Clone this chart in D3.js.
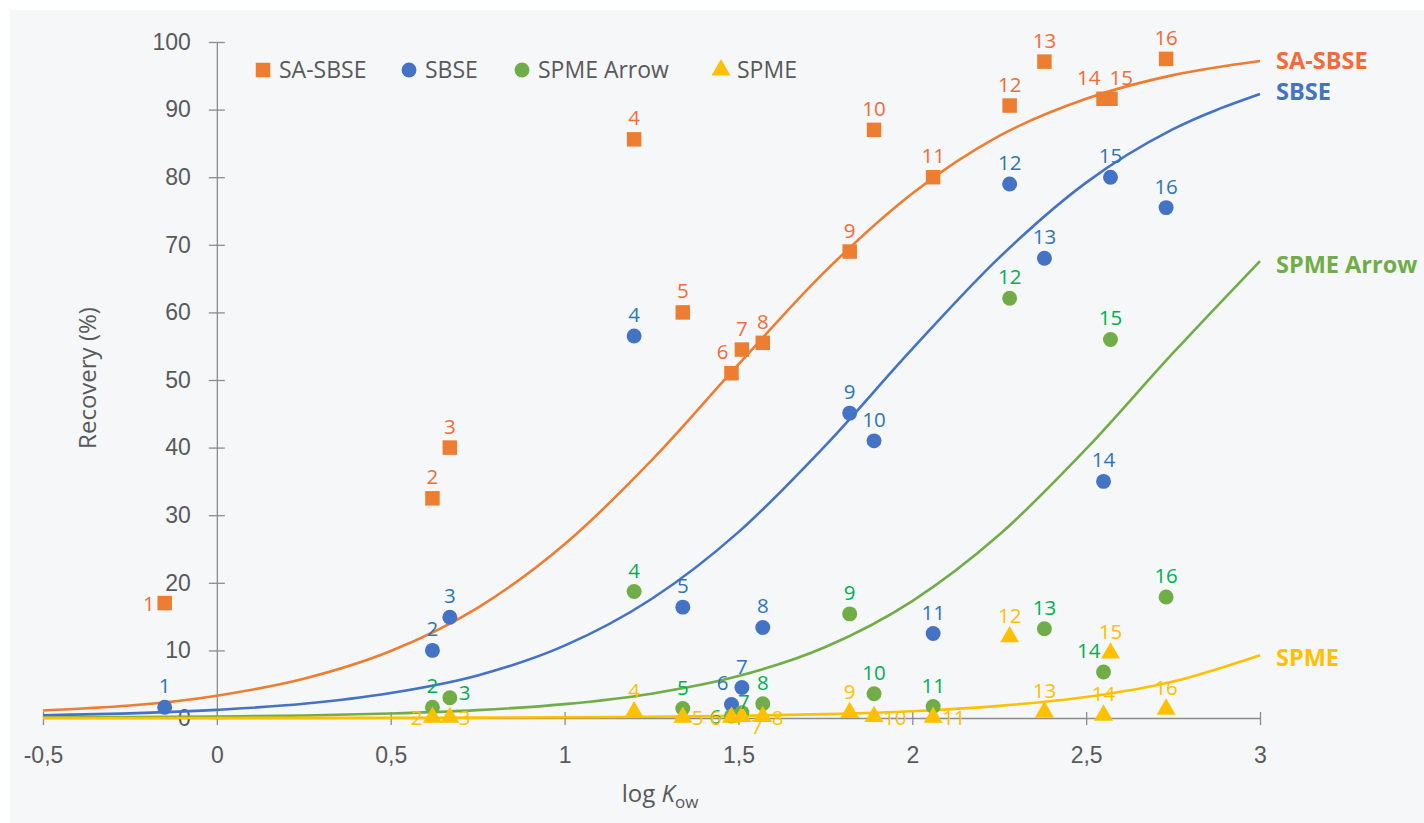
<!DOCTYPE html>
<html>
<head>
<meta charset="utf-8">
<script src="https://cdn.jsdelivr.net/npm/d3@7"></script>
<style>
  body { margin: 0; background: #ffffff; }
  svg { display: block; font-family: "Open Sans", "Noto Sans", sans-serif; }
</style>
</head>
<body>
<div id="chart"></div>
<script>
// chart data
var compounds = [1, 2, 3, 4, 5, 6, 7, 8, 9, 10, 11, 12, 13, 14, 15, 16];
var logKow = [-0.15, 0.62, 0.67, 1.20, 1.34, 1.48, 1.51, 1.57, 1.82, 1.89, 2.06, 2.28, 2.38, 2.55, 2.57, 2.73];

var saSbse = [17, 32.5, 40, 85.6, 60, 51, 54.5, 55.5, 69, 87, 80, 90.6, 97.1, 91.6, 91.6, 97.5];
var sbse = [1.6, 10, 14.9, 56.5, 16.4, 2, 4.5, 13.4, 45.1, 41, 12.5, 79, 68, 35, 80, 75.5];
var spmeArrow = [null, 1.6, 3, 18.7, 1.4, 0.3, 0.8, 2.1, 15.4, 3.6, 1.7, 62.1, 13.2, 6.8, 56, 17.9];
var spme = [null, 0.1, 0.1, 0.9, 0.1, 0.1, 0.2, 0.2, 0.8, 0.2, 0.1, 12, 0.9, 0.4, 9.6, 1.3];

// fitted curves
var curveX = [-0.5, 0, 0.25, 0.5, 0.75, 1, 1.25, 1.5, 1.75, 2, 2.25, 2.5, 2.75, 3];
var saSbseFit = [1.1, 3.3, 5.8, 9.9, 16.3, 25.7, 38.1, 52.3, 66.1, 77.6, 86.1, 91.6, 95.1, 97.2];
var sbseFit = [0.4, 1.2, 2.1, 3.7, 6.3, 10.7, 17.6, 27.5, 40.3, 54.6, 68.1, 79.2, 87.1, 92.3];
var spmeArrowFit = [0.07, 0.21, 0.37, 0.66, 1.16, 2.05, 3.6, 6.2, 10.5, 17.3, 27.1, 39.8, 54, 67.6];
var spmeFit = [0, 0.01, 0.02, 0.03, 0.06, 0.1, 0.18, 0.32, 0.57, 1.0, 1.8, 3.1, 5.4, 9.3];

var xTicks = [-0.5, 0, 0.5, 1, 1.5, 2, 2.5, 3];
var xTickLabels = ["-0,5", "0", "0,5", "1", "1,5", "2", "2,5", "3"];
var yTicks = [0, 10, 20, 30, 40, 50, 60, 70, 80, 90, 100];

// where each point's number label sits (t = top, l = left, r = right ...)
var saSbseLab = ["l", "t", "t", "t", "t", "tl", "t", "t", "t", "t", "t", "t", "t", "tl", "tr", "t"];
var sbseLab = ["t", "t", "t", "t", "t", "tl", "t", "t", "t", "t", "t", "t", "t", "t", "t", "t"];
var spmeArrowLab = ["t", "t", "ru", "t", "t", "l", "tc", "t", "t", "t", "t", "t", "t", "tl", "t", "t"];
var spmeLab = ["t", "l", "r", "t", "r", "l", "rb", "r", "t", "r", "r", "t", "t", "t", "t", "t"];

var W = 1424, H = 823;
var svg = d3.select("#chart").append("svg")
    .attr("width", W)
    .attr("height", H);

svg.append("rect")
    .attr("x", 10).attr("y", 10)
    .attr("width", W - 10).attr("height", H - 10)
    .attr("fill", "#f5f7f9");

var x = d3.scaleLinear().domain([-0.5, 3]).range([43, 1260]);
var y = d3.scaleLinear().domain([0, 100]).range([718, 42]);

var axisColor = "#8c8c8c";
var textColor = "#595959";

// x axis at y = 0
var xAxis = svg.append("g")
    .attr("transform", "translate(0," + y(0) + ")")
    .call(d3.axisBottom(x).tickValues(xTicks).tickSize(0).tickFormat(function (d, i) { return xTickLabels[i]; }));
xAxis.select(".domain").attr("stroke", axisColor).attr("stroke-width", 1.3);
xAxis.selectAll(".tick text")
    .attr("y", 37)
    .attr("dy", "0.35em")
    .attr("fill", textColor)
    .attr("font-size", 23);
xAxis.selectAll(".tick").append("line")
    .attr("y1", -6).attr("y2", 7)
    .attr("stroke", axisColor).attr("stroke-width", 1.3);

// y axis at x = 0
var yAxis = svg.append("g")
    .attr("transform", "translate(" + x(0) + ",0)")
    .call(d3.axisLeft(y).tickValues(yTicks).tickSize(0));
yAxis.select(".domain").attr("stroke", axisColor).attr("stroke-width", 1.3);
yAxis.selectAll(".tick text")
    .attr("x", -26)
    .attr("fill", textColor)
    .attr("font-size", 23);
yAxis.selectAll(".tick").append("line")
    .attr("x1", -8).attr("x2", 8)
    .attr("stroke", axisColor).attr("stroke-width", 1.3);

// axis titles
svg.append("text")
    .attr("transform", "translate(96,378) rotate(-90)")
    .attr("text-anchor", "middle")
    .attr("fill", textColor)
    .attr("font-size", 24)
    .text("Recovery (%)");

var xt = svg.append("text")
    .attr("x", 660).attr("y", 802)
    .attr("text-anchor", "middle")
    .attr("fill", textColor)
    .attr("font-size", 24);
xt.append("tspan").text("log ");
xt.append("tspan").attr("font-style", "italic").text("K");
xt.append("tspan").attr("font-size", 17).attr("dy", 6).text("ow");

var series = [
    { name: "SA-SBSE", vals: saSbse, fit: saSbseFit, lab: saSbseLab, color: "#ed7d31", text: "#f26b3a", shape: "square" },
    { name: "SBSE", vals: sbse, fit: sbseFit, lab: sbseLab, color: "#4472c4", text: "#2e75b6", shape: "circle" },
    { name: "SPME Arrow", vals: spmeArrow, fit: spmeArrowFit, lab: spmeArrowLab, color: "#70ad47", text: "#00b050", shape: "circle" },
    { name: "SPME", vals: spme, fit: spmeFit, lab: spmeLab, color: "#ffc000", text: "#ffc000", shape: "triangle" }
];

var line = d3.line()
    .x(function (d) { return x(d[0]); })
    .y(function (d) { return y(d[1]); })
    .curve(d3.curveMonotoneX);

series.forEach(function (s) {
    var pts = curveX.map(function (cx, i) { return [cx, s.fit[i]]; });
    svg.append("path")
        .datum(pts)
        .attr("d", line)
        .attr("fill", "none")
        .attr("stroke", s.color)
        .attr("stroke-width", 2.6);
});

function symbolFor(shape) {
    if (shape === "square") return d3.symbol().type(d3.symbolSquare).size(210);
    if (shape === "triangle") return d3.symbol().type(d3.symbolTriangle).size(155);
    return d3.symbol().type(d3.symbolCircle).size(175);
}

// markers
series.forEach(function (s) {
    var data = compounds.map(function (c, i) {
        return { c: c, x: logKow[i], v: s.vals[i], pos: s.lab[i] };
    }).filter(function (d) { return d.v !== null; });

    svg.append("g").selectAll("path")
        .data(data)
        .enter()
        .append("path")
        .attr("transform", function (d) { return "translate(" + x(d.x) + "," + y(d.v) + ")"; })
        .attr("d", symbolFor(s.shape)())
        .attr("fill", s.color);

    s.data = data;
});

// point labels
series.forEach(function (s) {
    svg.append("g").selectAll("text")
        .data(s.data)
        .enter()
        .append("text")
        .attr("x", function (d) {
            var px = x(d.x);
            if (d.pos === "l") return px - 10;
            if (d.pos === "r" || d.pos === "rb" || d.pos === "ru") return px + 9;
            if (d.pos === "tl") return px - 3;
            if (d.pos === "tr") return px - 1;
            if (d.pos === "tc") return px + 2;
            return px;
        })
        .attr("y", function (d) {
            var py = y(d.v);
            if (d.pos === "l" || d.pos === "r") return py + 8;
            if (d.pos === "ru") return py + 2;
            if (d.pos === "rb") return py + 17;
            if (d.pos === "tc") return py - 4;
            return py - 14;
        })
        .attr("text-anchor", function (d) {
            if (d.pos === "l" || d.pos === "tl") return "end";
            if (d.pos === "r" || d.pos === "rb" || d.pos === "ru" || d.pos === "tr") return "start";
            return "middle";
        })
        .attr("fill", s.text)
        .attr("font-size", 20.5)
        .text(function (d) { return d.c; });
});

// curve end labels
var endLabelY = [61, 92, 265, 658];
series.forEach(function (s, i) {
    svg.append("text")
        .attr("x", 1276)
        .attr("y", endLabelY[i])
        .attr("dy", "0.35em")
        .attr("fill", s.shape === "square" ? s.text : s.color)
        .attr("font-size", 23.5)
        .attr("font-weight", "bold")
        .text(s.name);
});

// legend
var legendX = [263, 409, 522, 721];
var legend = svg.append("g");
series.forEach(function (s, i) {
    legend.append("path")
        .attr("transform", "translate(" + legendX[i] + ",70)")
        .attr("d", symbolFor(s.shape)())
        .attr("fill", s.color);
    legend.append("text")
        .attr("x", legendX[i] + 16)
        .attr("y", 70)
        .attr("dy", "0.35em")
        .attr("fill", textColor)
        .attr("font-size", 23)
        .text(s.name);
});
</script>
</body>
</html>
